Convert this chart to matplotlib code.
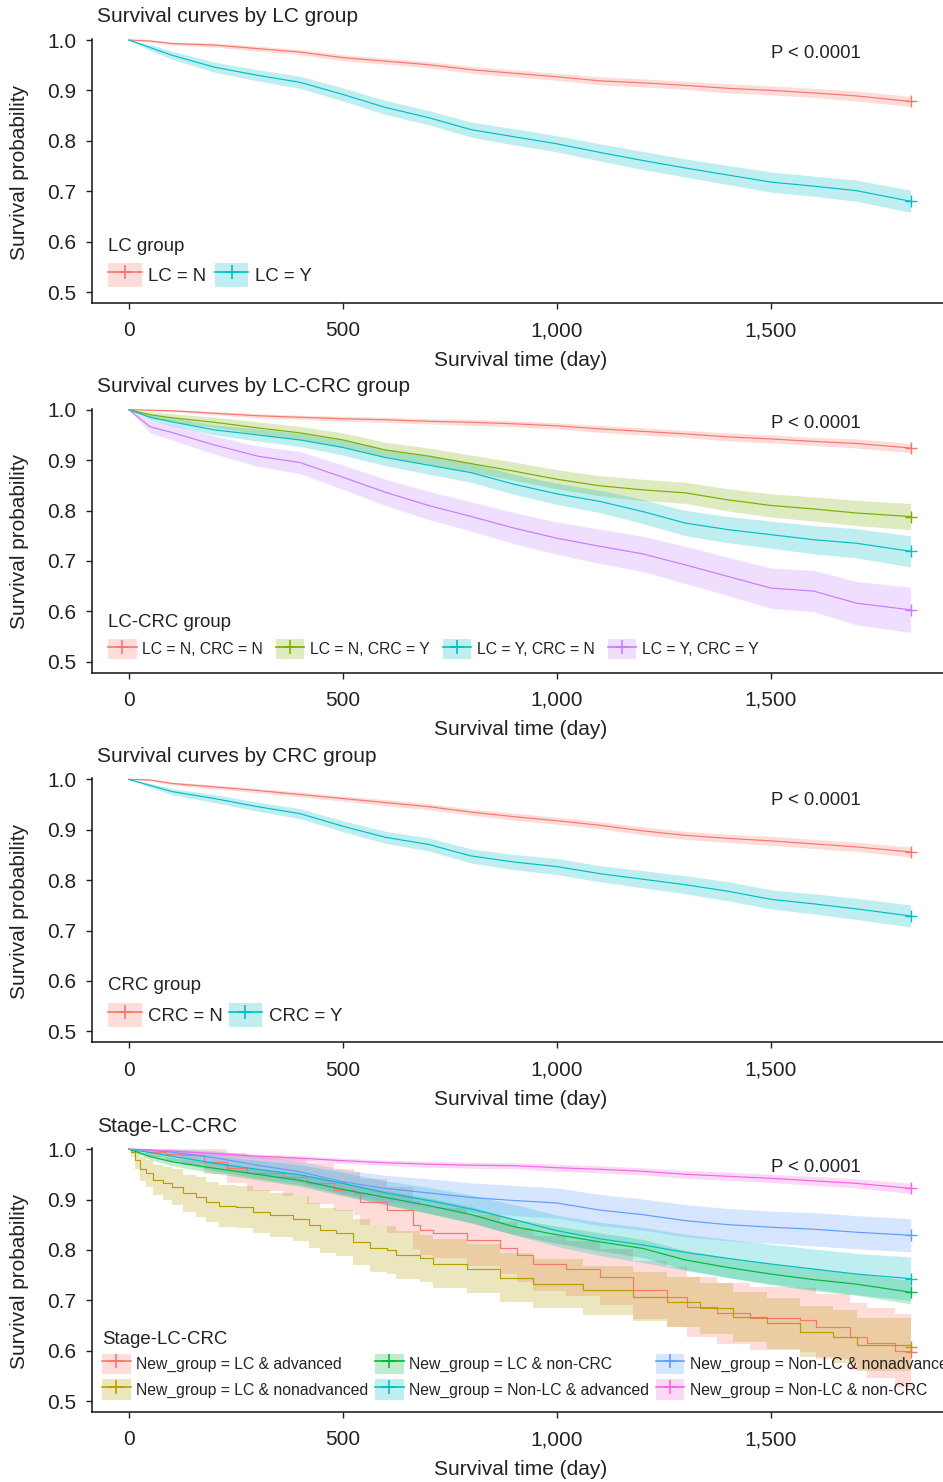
"""Kaplan-Meier panels: survival by LC / LC-CRC / CRC / stage groups."""

import matplotlib

matplotlib.use("Agg")
import matplotlib.pyplot as plt
from matplotlib.lines import Line2D
from matplotlib.patches import Patch

plt.rcParams["font.family"] = ["Liberation Sans", "DejaVu Sans"]

TEXT = "#222222"
W, H = 943, 1482

# common day grid used for the smooth curves
DAYS = [0, 50, 100, 200, 300, 400, 500, 600, 700, 800, 900, 1000,
        1100, 1200, 1300, 1400, 1500, 1600, 1700, 1826]

# panel 1: LC group
LC_N = [1.0, 0.998, 0.993, 0.990, 0.983, 0.976, 0.965, 0.958, 0.951, 0.941,
        0.934, 0.927, 0.919, 0.915, 0.910, 0.904, 0.900, 0.895, 0.889, 0.878]
LC_N_CI = [0, .002, .003, .004, .005, .005, .006, .006, .006, .007,
           .007, .007, .008, .008, .008, .009, .009, .009, .010, .010]
LC_Y = [1.0, 0.985, 0.970, 0.946, 0.930, 0.916, 0.892, 0.866, 0.846, 0.822,
        0.808, 0.794, 0.777, 0.761, 0.746, 0.732, 0.718, 0.710, 0.701, 0.680]
LC_Y_CI = [0, .006, .008, .010, .011, .012, .013, .014, .014, .015,
           .016, .016, .017, .018, .018, .019, .020, .020, .021, .022]

# panel 2: LC-CRC group
NN = [1.0, 0.999, 0.998, 0.993, 0.988, 0.985, 0.982, 0.980, 0.977, 0.975,
      0.972, 0.968, 0.962, 0.957, 0.952, 0.946, 0.942, 0.937, 0.933, 0.924]
NN_CI = [0, .001, .002, .003, .004, .004, .005, .005, .005, .006,
         .006, .006, .007, .007, .007, .008, .008, .008, .009, .009]
NY = [1.0, 0.990, 0.984, 0.975, 0.964, 0.954, 0.940, 0.920, 0.908, 0.893,
      0.878, 0.862, 0.849, 0.841, 0.835, 0.821, 0.810, 0.803, 0.795, 0.788]
NY_CI = [0, .006, .008, .010, .012, .013, .014, .015, .016, .017,
         .018, .019, .020, .021, .021, .022, .023, .024, .025, .026]
YN = [1.0, 0.985, 0.976, 0.960, 0.950, 0.940, 0.925, 0.905, 0.890, 0.875,
      0.852, 0.833, 0.818, 0.798, 0.775, 0.762, 0.752, 0.742, 0.735, 0.719]
YN_CI = [0, .006, .008, .010, .012, .013, .015, .016, .018, .019,
         .020, .021, .022, .024, .025, .026, .027, .028, .029, .031]
YY = [1.0, 0.966, 0.955, 0.930, 0.908, 0.895, 0.866, 0.836, 0.810, 0.788,
      0.765, 0.745, 0.729, 0.714, 0.692, 0.669, 0.646, 0.640, 0.616, 0.603]
YY_CI = [0, .012, .015, .018, .020, .022, .024, .026, .028, .029,
         .031, .032, .034, .035, .037, .038, .040, .041, .043, .045]

# panel 3: CRC group
CRC_N = [1.0, 0.999, 0.992, 0.985, 0.978, 0.970, 0.962, 0.954, 0.946, 0.935,
         0.926, 0.918, 0.909, 0.898, 0.889, 0.883, 0.878, 0.872, 0.866, 0.856]
CRC_N_CI = [0, .002, .003, .004, .004, .005, .005, .006, .006, .006,
            .007, .007, .007, .008, .008, .008, .009, .009, .009, .010]
CRC_Y = [1.0, 0.988, 0.976, 0.962, 0.946, 0.932, 0.907, 0.885, 0.871, 0.848,
         0.836, 0.827, 0.813, 0.802, 0.791, 0.778, 0.762, 0.753, 0.743, 0.729]
CRC_Y_CI = [0, .004, .006, .008, .009, .010, .011, .012, .013, .014,
            .015, .016, .016, .017, .018, .019, .019, .020, .021, .022]

# panel 4: Stage-LC-CRC (smaller groups, visible steps)
ADV_T = [0, 40, 88, 121, 175, 230, 276, 361, 417, 479, 525, 540, 602, 664,
         680, 711, 789, 867, 906, 945, 1022, 1100, 1178, 1256, 1303, 1373,
         1451, 1568, 1606, 1684, 1723, 1790, 1826]
ADV = [1.0, 0.995, 0.991, 0.988, 0.975, 0.962, 0.952, 0.945, 0.932, 0.919,
       0.912, 0.895, 0.879, 0.850, 0.839, 0.833, 0.819, 0.804, 0.790, 0.773,
       0.763, 0.746, 0.720, 0.707, 0.687, 0.674, 0.664, 0.661, 0.648, 0.628,
       0.615, 0.600, 0.597]
ADV_CI = [0, .010, .015, .020, .025, .030, .035, .038, .040, .042, .043, .045,
          .046, .048, .049, .050, .051, .052, .053, .054, .055, .056, .058,
          .059, .060, .061, .062, .063, .065, .067, .069, .072, .074]
NONADV_T = [0, 5, 14, 26, 40, 56, 79, 102, 126, 157, 180, 211, 250, 290, 329,
            383, 422, 446, 485, 524, 563, 602, 625, 680, 711, 789, 867, 945,
            1061, 1178, 1256, 1334, 1412, 1490, 1568, 1645, 1700, 1826]
NONADV = [1.0, 0.995, 0.978, 0.961, 0.952, 0.939, 0.932, 0.925, 0.912, 0.905,
          0.895, 0.887, 0.885, 0.876, 0.869, 0.862, 0.849, 0.839, 0.833, 0.816,
          0.803, 0.800, 0.790, 0.783, 0.773, 0.763, 0.745, 0.733, 0.720, 0.707,
          0.697, 0.684, 0.667, 0.654, 0.638, 0.628, 0.612, 0.608]
NONADV_CI = [0, .010, .018, .024, .027, .030, .033, .035, .037, .039, .040,
             .041, .042, .043, .044, .044, .045, .045, .046, .046, .046, .047,
             .047, .047, .048, .048, .048, .049, .049, .049, .050, .050, .050,
             .051, .051, .052, .053, .055]
LC_NONCRC = [1.0, 0.985, 0.975, 0.962, 0.950, 0.938, 0.920, 0.904, 0.888, 0.870,
             0.846, 0.830, 0.816, 0.803, 0.780, 0.765, 0.752, 0.741, 0.732, 0.716]
LC_NONCRC_CI = [0, .006, .008, .010, .011, .012, .013, .014, .015, .016,
                .016, .017, .018, .018, .019, .020, .021, .022, .022, .023]
NL_ADV = [1.0, 0.993, 0.986, 0.972, 0.960, 0.949, 0.932, 0.913, 0.898, 0.881,
          0.860, 0.838, 0.822, 0.810, 0.795, 0.783, 0.772, 0.762, 0.752, 0.743]
NL_ADV_CI = [0, .006, .010, .015, .018, .020, .022, .024, .026, .028,
             .030, .031, .033, .035, .036, .038, .039, .040, .041, .043]
NL_NONADV = [1.0, 0.998, 0.994, 0.983, 0.968, 0.955, 0.935, 0.922, 0.913, 0.904,
             0.898, 0.893, 0.879, 0.870, 0.858, 0.850, 0.845, 0.841, 0.835, 0.829]
NL_NONADV_CI = [0, .004, .008, .014, .018, .021, .024, .026, .028, .029,
                .030, .030, .031, .031, .032, .032, .032, .033, .033, .033]
NL_NONCRC = [1.0, 0.998, 0.996, 0.991, 0.986, 0.982, 0.977, 0.973, 0.970, 0.968,
             0.967, 0.963, 0.960, 0.956, 0.950, 0.946, 0.942, 0.937, 0.932, 0.922]
NL_NONCRC_CI = [0, .002, .003, .004, .004, .005, .005, .005, .006, .006,
                .006, .007, .007, .007, .008, .008, .008, .009, .009, .010]

X_TICKS = [0, 500, 1000, 1500]
X_TICK_LABELS = ["0", "500", "1,000", "1,500"]
Y_TICKS = [0.5, 0.6, 0.7, 0.8, 0.9, 1.0]

PANELS = [
    {
        "title": "Survival curves by LC group",
        "legend_title": "LC group",
        "label_size": 13.4,
        "ncol": 2,
        "p_y": 0.974,
        "leg_xy": (0.019, 0.061),
        "colsp": 0.45,
        "labsp": 0.42,
        "curves": [
            ("LC = N", "#F8766D", DAYS, LC_N, LC_N_CI, False),
            ("LC = Y", "#00BFC4", DAYS, LC_Y, LC_Y_CI, False),
        ],
    },
    {
        "title": "Survival curves by LC-CRC group",
        "legend_title": "LC-CRC group",
        "label_size": 11.3,
        "ncol": 4,
        "p_y": 0.972,
        "leg_xy": (0.019, 0.051),
        "colsp": 0.85,
        "labsp": 0.55,
        "curves": [
            ("LC = N, CRC = N", "#F8766D", DAYS, NN, NN_CI, False),
            ("LC = N, CRC = Y", "#7CAE00", DAYS, NY, NY_CI, False),
            ("LC = Y, CRC = N", "#00BFC4", DAYS, YN, YN_CI, False),
            ("LC = Y, CRC = Y", "#C77CFF", DAYS, YY, YY_CI, False),
        ],
    },
    {
        "title": "Survival curves by CRC group",
        "legend_title": "CRC group",
        "label_size": 13.4,
        "ncol": 2,
        "p_y": 0.958,
        "leg_xy": (0.019, 0.058),
        "colsp": 0.3,
        "labsp": 0.5,
        "curves": [
            ("CRC = N", "#F8766D", DAYS, CRC_N, CRC_N_CI, False),
            ("CRC = Y", "#00BFC4", DAYS, CRC_Y, CRC_Y_CI, False),
        ],
    },
    {
        "title": "Stage-LC-CRC",
        "legend_title": "Stage-LC-CRC",
        "label_size": 11.3,
        "ncol": 3,
        "p_y": 0.964,
        "leg_xy": (0.012, 0.048),
        "colsp": 0.45,
        "labsp": 0.35,
        "curves": [
            ("New_group = LC & advanced", "#F8766D", ADV_T, ADV, ADV_CI, True),
            ("New_group = LC & nonadvanced", "#B79F00", NONADV_T, NONADV, NONADV_CI, True),
            ("New_group = LC & non-CRC", "#00BA38", DAYS, LC_NONCRC, LC_NONCRC_CI, False),
            ("New_group = Non-LC & advanced", "#00BFC4", DAYS, NL_ADV, NL_ADV_CI, False),
            ("New_group = Non-LC & nonadvanced", "#619CFF", DAYS, NL_NONADV, NL_NONADV_CI, False),
            ("New_group = Non-LC & non-CRC", "#F564E3", DAYS, NL_NONCRC, NL_NONCRC_CI, False),
        ],
    },
]


def px_x(x):
    return x / W


def px_y(y):
    return 1 - y / H


fig = plt.figure(figsize=(W / 100, H / 100), dpi=100)

PANEL_STEP = 369.7
AX_LEFT, AX_RIGHT = 92, 950
Y_LO, Y_HI = 0.478, 1.002
PX_PER_UNIT = 504
BAND_ALPHA = 0.25

for k, panel in enumerate(PANELS):
    off = PANEL_STEP * k
    top_px = 40 - (Y_HI - 1.0) * PX_PER_UNIT + off
    bot_px = 40 + (1.0 - Y_LO) * PX_PER_UNIT + off
    ax = fig.add_axes([px_x(AX_LEFT), px_y(bot_px),
                       (AX_RIGHT - AX_LEFT) / W, (bot_px - top_px) / H])

    handles = []
    for label, color, t, s, ci, stepped in panel["curves"]:
        lo = [v - c for v, c in zip(s, ci)]
        hi = [min(v + c, 1.0) for v, c in zip(s, ci)]
        ax.fill_between(t, lo, hi, color=color, alpha=BAND_ALPHA, lw=0,
                        step="post" if stepped else None, zorder=1)
    for label, color, t, s, ci, stepped in panel["curves"]:
        ax.plot(t, s, color=color, lw=0.85, zorder=3,
                drawstyle="steps-post" if stepped else "default")
        ax.plot(t[-1:], s[-1:], color=color, marker="+", ms=8, mew=1.0,
                ls="none", zorder=4)
        handles.append((Patch(facecolor=color, alpha=BAND_ALPHA, edgecolor="none"),
                        Line2D([], [], color=color, lw=1.2, marker="+",
                               ms=10, mew=1.2)))

    ax.set_xlim(-86, 1918)
    ax.set_ylim(Y_LO, Y_HI)
    ax.set_xticks(X_TICKS, X_TICK_LABELS)
    ax.set_yticks(Y_TICKS, [f"{v:.1f}" for v in Y_TICKS])
    for side in ("top", "right"):
        ax.spines[side].set_visible(False)
    for side in ("left", "bottom"):
        ax.spines[side].set_linewidth(1.1)
        ax.spines[side].set_color("#111111")
    ax.tick_params(axis="both", labelsize=15, colors=TEXT, length=4, width=1.0)
    ax.tick_params(axis="y", pad=7)
    ax.tick_params(axis="x", pad=9)

    ax.text(1500, panel["p_y"], "P < 0.0001", fontsize=13.3, color=TEXT,
            ha="left", va="center")

    labels = [c[0] for c in panel["curves"]]
    leg = ax.legend(handles, labels, title=panel["legend_title"],
                    ncol=panel["ncol"], loc="lower left",
                    bbox_to_anchor=panel["leg_xy"], frameon=False,
                    fontsize=panel["label_size"], title_fontsize=13.4,
                    handlelength=1.8, handleheight=1.6, handletextpad=0.35,
                    columnspacing=panel["colsp"], labelspacing=panel["labsp"],
                    borderpad=0, borderaxespad=0, alignment="left")
    for txt in leg.get_texts():
        txt.set_color(TEXT)
    leg.get_title().set_color(TEXT)

    fig.text(px_x(97), px_y(17 + off), panel["title"], fontsize=15,
             color=TEXT, ha="left", va="center")
    fig.text(px_x(521), px_y(360 + off), "Survival time (day)", fontsize=15,
             color=TEXT, ha="center", va="center")
    fig.text(px_x(20), px_y(172 + off), "Survival probability", fontsize=15,
             color=TEXT, ha="center", va="center", rotation=90)

fig.savefig("out.png", dpi=100)
